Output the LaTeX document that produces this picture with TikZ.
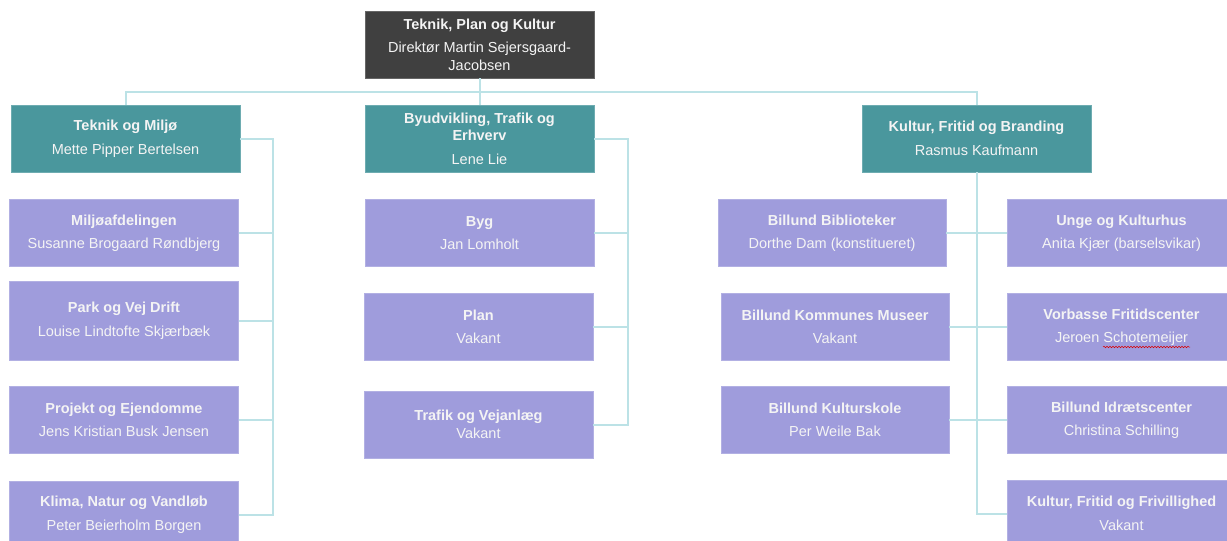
\documentclass[tikz,border=0pt]{standalone}
\usepackage{fontspec}
\setmainfont{Liberation Sans}
\usetikzlibrary{decorations.pathmorphing}
\definecolor{darkbox}{HTML}{404040}
\definecolor{tealbox}{HTML}{4A979D}
\definecolor{purplebox}{HTML}{9F9CDC}
\definecolor{linkcol}{HTML}{BCE2E6}
\definecolor{txtcol}{HTML}{F4F4F4}
\tikzset{
  orgbox/.style={rectangle, inner sep=0pt, align=center, text=txtcol,
    font=\fontsize{14.5}{17.5}\selectfont, minimum width=229pt, minimum height=67pt},
  topbox/.style={orgbox, fill=darkbox, draw=darkbox!80!white, line width=0.6pt},
  deptbox/.style={orgbox, fill=tealbox, draw=tealbox!80!white, line width=0.6pt},
  unitbox/.style={orgbox, fill=purplebox, draw=purplebox!80!white, line width=0.6pt},
  link/.style={draw=linkcol, line width=2pt},
}
\begin{document}
\begin{tikzpicture}[x=1pt, y=-1pt]
\useasboundingbox (0,0) rectangle (1227,541);
\clip (0,0) rectangle (1227,541);

% top
\node[topbox] (top) at (479.5,44.5) {\textbf{Teknik, Plan og Kultur}\\[6pt]Direktør Martin Sejersgaard-\\Jacobsen};

% departments
\node[deptbox] (tm) at (125.5,138.5) {\textbf{Teknik og Miljø}\\[6pt]Mette Pipper Bertelsen};
\node[deptbox] (bte) at (479.5,138.5) {\textbf{Byudvikling, Trafik og}\\\textbf{Erhverv}\\[6pt]Lene Lie};
\node[deptbox] (kfb) at (976.5,138.5) {\textbf{Kultur, Fritid og Branding}\\[6pt]Rasmus Kaufmann};

% left column
\node[unitbox] (l1) at (124,233) {\textbf{Miljøafdelingen}\\[6pt]Susanne Brogaard Røndbjerg};
\node[unitbox, minimum height=79pt] (l2) at (124,320.5) {\textbf{Park og Vej Drift}\\[6pt]Louise Lindtofte Skjærbæk};
\node[unitbox] (l3) at (124,420) {\textbf{Projekt og Ejendomme}\\[6pt]Jens Kristian Busk Jensen};
\node[unitbox] (l4) at (124,514.5) {\textbf{Klima, Natur og Vandløb}\\[6pt]Peter Beierholm Borgen};

% middle column
\node[unitbox] (m1) at (479.5,233) {\textbf{Byg}\\[6pt]Jan Lomholt};
\node[unitbox] (m2) at (478.5,327) {\textbf{Plan}\\[6pt]Vakant};
\node[unitbox] (m3) at (478.5,424.5) {\textbf{Trafik og Vejanlæg}\\Vakant};

% right column, left side
\node[unitbox, minimum width=228pt] (r1) at (832,233) {\textbf{Billund Biblioteker}\\[6pt]Dorthe Dam (konstitueret)};
\node[unitbox, minimum width=228pt] (r2) at (835,327) {\textbf{Billund Kommunes Museer}\\[6pt]Vakant};
\node[unitbox, minimum width=228pt] (r3) at (835,420) {\textbf{Billund Kulturskole}\\[6pt]Per Weile Bak};

% right column, right side
\node[unitbox] (s1) at (1121.5,233) {\textbf{Unge og Kulturhus}\\[6pt]Anita Kjær (barselsvikar)};
\node[unitbox] (s2) at (1121.5,327) {\textbf{Vorbasse Fritidscenter}\\[6pt]Jeroen Schotemeijer};
\node[unitbox] (s3) at (1121.5,420) {\textbf{Billund Idrætscenter}\\[6pt]Christina Schilling};
\node[unitbox] (s4) at (1121.5,513.5) {\textbf{Kultur, Fritid og Frivillighed}\\[6pt]Vakant};

% spell-check squiggle
\draw[red!85!black, line width=0.5pt, decorate, decoration={snake, amplitude=0.8pt, segment length=3pt}]
  (1103,347) -- (1190,347);

% connectors
\coordinate (bus) at (479.5,92);
\draw[link] (top.south) -- (bus) -- (bte.north);
\draw[link] (bus) -| (tm.north);
\draw[link] (bus) -| (kfb.north);

\draw[link] (tm.east) -- ++(33,0) coordinate (lv) |- (l1.east);
\foreach \c in {l2,l3,l4} \draw[link] (lv) |- (\c.east);

\draw[link] (bte.east) -- ++(34,0) coordinate (mv) |- (m1.east);
\foreach \c in {m2,m3} \draw[link] (mv) |- (\c.east);

\foreach \c in {r1,r2,r3} \draw[link] (kfb.south) |- (\c.east);
\foreach \c in {s1,s2,s3,s4} \draw[link] (kfb.south) |- (\c.west);
\end{tikzpicture}
\end{document}
